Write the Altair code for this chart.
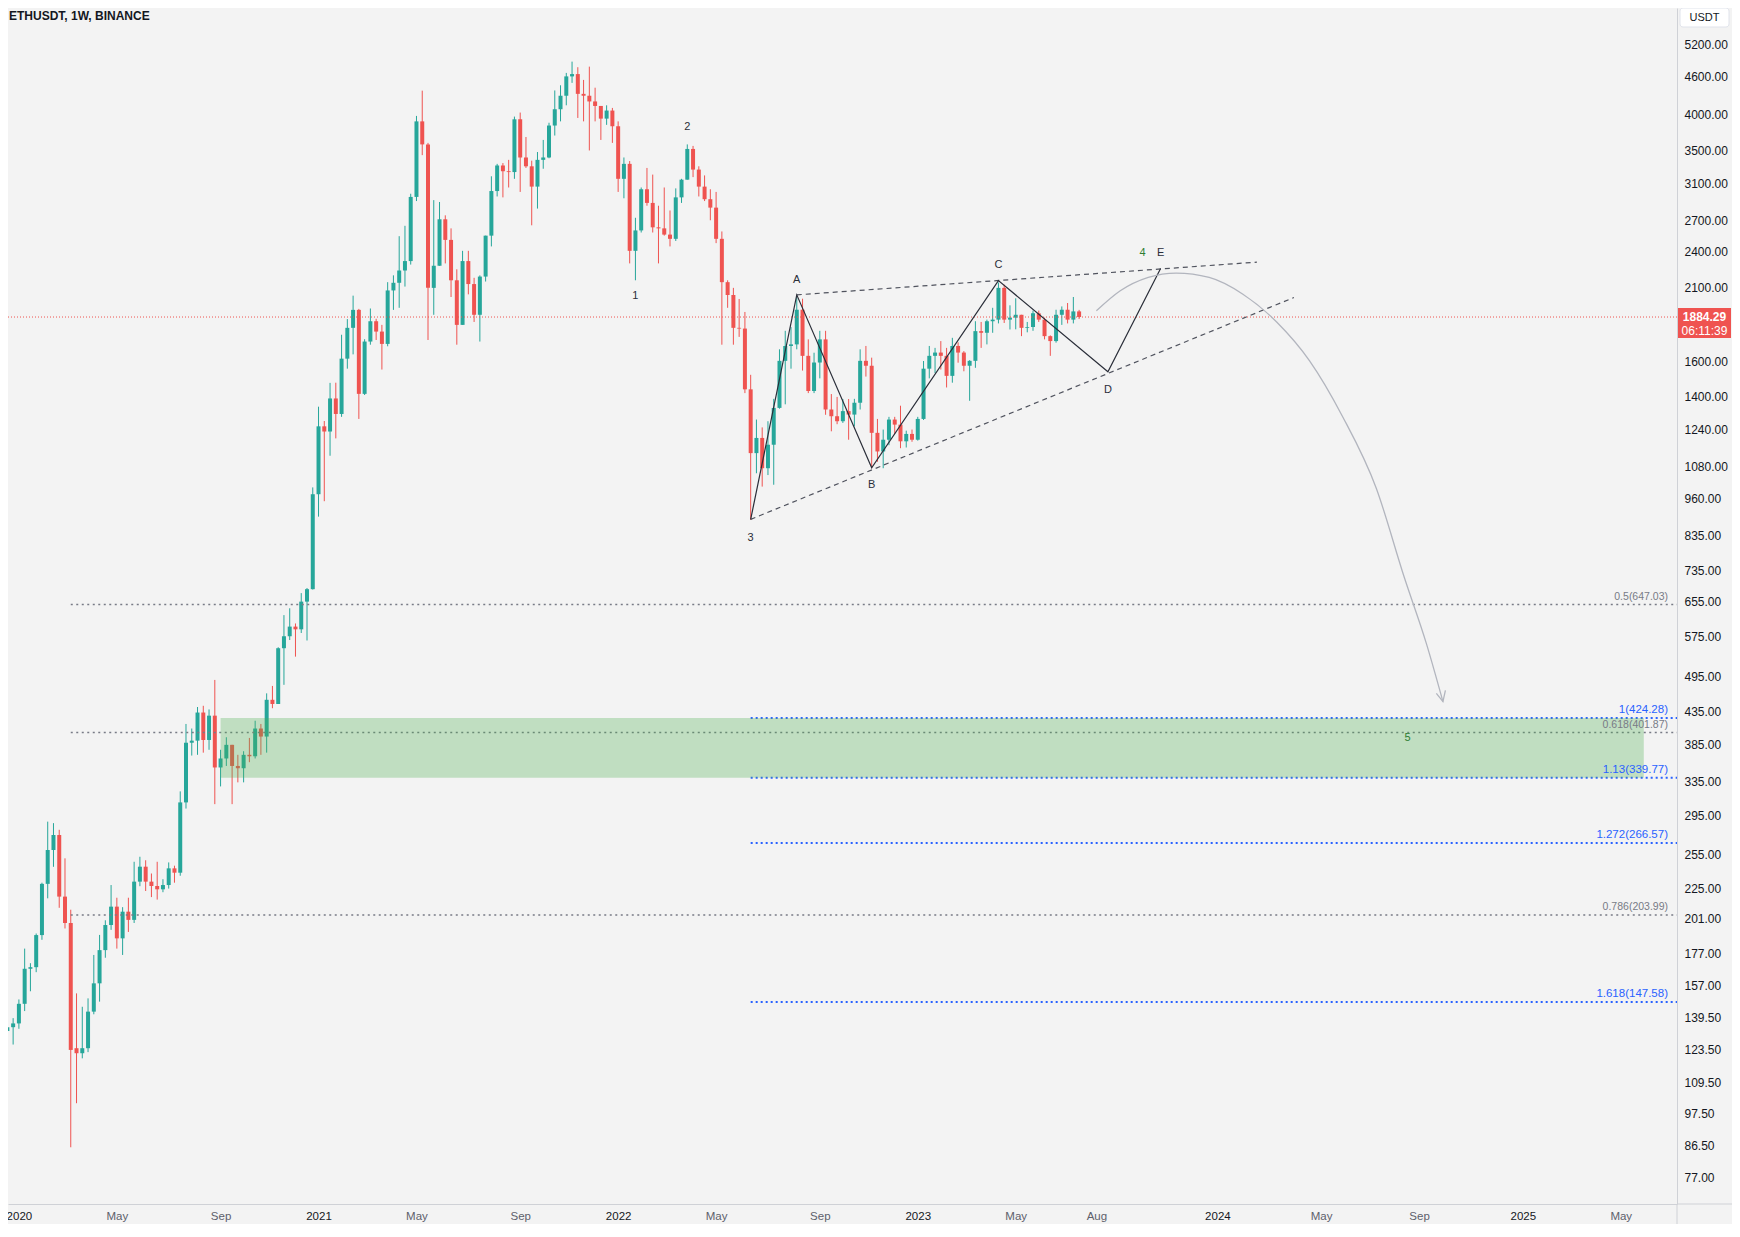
import math
import altair as alt
import pandas as pd

# ---------------- data ----------------
title_text = "ETHUSDT, 1W, BINANCE"
first_week = "2019-12-16"          # weekly candles, Monday starts

# (open, high, low, close)
ohlc_2019 = [(142.3, 145.5, 116.3, 132.5), (132.5, 138, 122, 134.4), (134.4, 139, 126, 136.3)]
ohlc_2020 = [
    (136.3, 149, 133.6, 146.6), (146.6, 180, 142.7, 167), (167, 170.5, 153.6, 168), (168, 190.4, 164.9, 189.3),
    (189.3, 230, 186, 229), (229, 288.6, 217, 259.7), (259.7, 287, 244, 274.6), (274.6, 280, 209.5, 218.4),
    (218.4, 251.8, 194, 198), (198, 208, 86, 123.5), (124.3, 152.4, 101.3, 122), (122, 145, 119.7, 124.3),
    (124.3, 149.6, 122.5, 142.4), (142.4, 175.8, 141, 158.2), (158.2, 189.4, 147.8, 179), (179, 200, 174, 196.5),
    (196.5, 228, 193, 210.4), (210.4, 217.5, 180, 187), (187, 210, 175.8, 206.5), (206.5, 217.5, 191.5, 200.3),
    (200.3, 248.6, 198, 230.9), (230.9, 253.3, 227, 244.1), (244.1, 250, 223, 230.9), (230.9, 238, 218, 227.2),
    (227.2, 248.6, 216, 224.4), (224.4, 233, 222, 228), (228, 248, 225, 242.6), (242.6, 245, 230, 238.7),
    (238.7, 323, 236, 310), (310, 415, 303, 387), (387, 408, 369, 390), (390, 442, 370, 433),
    (433, 444, 373, 391), (391, 438, 377, 428), (428, 488.8, 308, 353), (353, 377, 329, 365),
    (365, 395, 355, 384), (384, 384, 308, 355), (355, 370, 334, 352), (352, 375, 334, 370),
    (370, 394, 360, 368), (368, 420, 365, 408), (408, 415, 370, 396), (396, 465, 373, 454),
    (454, 478, 440, 447), (447, 552, 447, 550), (550, 622, 480, 575), (575, 638, 567, 596),
    (596, 603, 533, 590), (590, 675, 582, 654), (654, 688, 566, 685), (685, 1000, 684, 975),
]
ohlc_2021 = [
    (975, 1350, 897, 1255), (1255, 1280, 950, 1231), (1231, 1475, 1125, 1392), (1392, 1476, 1200, 1314),
    (1314, 1764, 1300, 1614), (1614, 1870, 1555, 1810), (1810, 2040, 1640, 1935), (1935, 1942, 1290, 1416),
    (1416, 1735, 1410, 1720), (1720, 1945, 1700, 1855), (1855, 1872, 1730, 1785), (1785, 1830, 1550, 1705),
    (1705, 2145, 1690, 2080), (2080, 2200, 1935, 2140), (2140, 2545, 1950, 2240), (2240, 2645, 2110, 2320),
    (2320, 2980, 2290, 2945), (2945, 3980, 2900, 3900), (3900, 4372, 3440, 3580), (3580, 3600, 1730, 2100),
    (2100, 2910, 1900, 2280), (2280, 2890, 2280, 2710), (2710, 2750, 2300, 2510), (2510, 2620, 2030, 2160),
    (2160, 2250, 1700, 1830), (1830, 2410, 1830, 2320), (2320, 2410, 2050, 2130), (2130, 2180, 1850, 1900),
    (1900, 2200, 1720, 2190), (2190, 2550, 2150, 2550), (2550, 3180, 2450, 3010), (3010, 3330, 2950, 3310),
    (3310, 3340, 2940, 3240), (3240, 3380, 3050, 3230), (3230, 3970, 3150, 3930), (3930, 4030, 3000, 3410),
    (3410, 3680, 3280, 3300), (3300, 3370, 2650, 3060), (3060, 3480, 2820, 3380), (3380, 3640, 3270, 3410),
    (3410, 3880, 3400, 3840), (3840, 4375, 3700, 4080), (4080, 4460, 3900, 4290), (4290, 4670, 4140, 4610),
    (4610, 4870, 4500, 4650), (4650, 4770, 3950, 4320), (4320, 4550, 3900, 4290), (4290, 4780, 3500, 4200),
    (4200, 4420, 3900, 4130), (4130, 4130, 3640, 3940), (3940, 4140, 3850, 4060), (4060, 4100, 3600, 3830),
]
ohlc_2022 = [
    (3830, 3900, 3000, 3150), (3150, 3410, 2930, 3330), (3330, 3365, 2300, 2410), (2410, 2725, 2160, 2600),
    (2600, 3050, 2580, 3030), (3030, 3280, 2850, 2880), (2880, 3200, 2580, 2630), (2630, 2850, 2300, 2620),
    (2620, 3050, 2550, 2560), (2560, 2800, 2450, 2520), (2520, 3040, 2500, 2940), (2940, 3150, 2880, 3140),
    (3140, 3580, 3140, 3520), (3520, 3560, 3170, 3260), (3260, 3300, 2950, 3060), (3060, 3190, 2900, 2920),
    (2920, 3030, 2700, 2830), (2830, 3000, 2480, 2520), (2520, 2590, 1700, 2145), (2145, 2160, 1950, 2045),
    (2045, 2100, 1700, 1810), (1810, 2015, 1750, 1805), (1805, 1920, 1420, 1440), (1440, 1520, 886, 1136),
    (1136, 1287, 1054, 1202), (1202, 1250, 1003, 1074), (1074, 1279, 1047, 1172), (1172, 1390, 1010, 1344),
    (1344, 1671, 1340, 1601), (1601, 1790, 1362, 1692), (1692, 1815, 1555, 1702), (1702, 2030, 1671, 1936),
    (1936, 2017, 1544, 1631), (1631, 1734, 1420, 1431), (1431, 1650, 1420, 1591), (1591, 1790, 1500, 1734),
    (1734, 1790, 1310, 1336), (1336, 1415, 1232, 1303), (1303, 1400, 1265, 1279), (1279, 1389, 1271, 1328),
    (1328, 1389, 1194, 1311), (1311, 1390, 1255, 1370), (1370, 1671, 1336, 1601), (1601, 1692, 1510, 1572),
    (1572, 1620, 1074, 1225), (1225, 1290, 1100, 1143), (1143, 1240, 1074, 1194), (1194, 1300, 1170, 1287),
    (1287, 1300, 1220, 1263), (1263, 1355, 1157, 1187), (1187, 1235, 1160, 1220), (1220, 1240, 1185, 1194),
]
ohlc_2023 = [
    (1194, 1300, 1190, 1290), (1290, 1600, 1285, 1555), (1555, 1692, 1500, 1631), (1631, 1680, 1530, 1651),
    (1651, 1723, 1550, 1631), (1631, 1680, 1450, 1514), (1514, 1744, 1476, 1692), (1692, 1715, 1590, 1651),
    (1651, 1660, 1540, 1572), (1572, 1605, 1380, 1601), (1601, 1855, 1560, 1788), (1788, 1850, 1680, 1777),
    (1777, 1866, 1702, 1855), (1855, 1950, 1777, 1866), (1866, 2142, 1840, 2100), (2100, 2125, 1843, 1866),
    (1866, 1968, 1799, 1880), (1880, 2020, 1800, 1900), (1900, 1900, 1755, 1810), (1810, 1850, 1780, 1815),
    (1815, 1930, 1790, 1910), (1910, 1930, 1850, 1866), (1866, 1880, 1734, 1755), (1755, 1760, 1631, 1723),
    (1723, 1936, 1713, 1900), (1900, 1960, 1830, 1936), (1936, 1985, 1840, 1866), (1866, 2030, 1840, 1924),
    (1924, 1935, 1870, 1884.29),
]
current_price = 1884.29
countdown = "06:11:39"
currency = "USDT"

price_ticks = [5200, 4600, 4000, 3500, 3100, 2700, 2400, 2100, 1600, 1400, 1240, 1080, 960, 835, 735,
               655, 575, 495, 435, 385, 335, 295, 255, 225, 201, 177, 157, 139.5, 123.5, 109.5, 97.5, 86.5, 77]
time_ticks = ["2020-01-06", "2020-05-04", "2020-09-07", "2021-01-04", "2021-05-03", "2021-09-06",
              "2022-01-03", "2022-05-02", "2022-09-05", "2023-01-02", "2023-05-01", "2023-08-07",
              "2024-01-01", "2024-05-06", "2024-09-02", "2025-01-06", "2025-05-05"]

retr_levels = ["0.5", "0.618", "0.786"]
retr_prices = [647.03, 401.87, 203.99]
retr_start = "2020-03-09"
ext_levels = ["1", "1.13", "1.272", "1.618"]
ext_prices = [424.28, 339.77, 266.57, 147.58]
ext_start = "2022-06-13"
lines_end = "2025-08-01"

zone_start, zone_end = "2020-09-07", "2025-06-02"
zone_low, zone_high = 339.77, 424.28

pattern_dates = ["2022-06-13", "2022-08-08", "2022-11-07", "2023-04-10", "2023-08-21", "2023-10-24"]
pattern_prices = [888, 2046, 1076, 2158, 1537, 2256]
upper_dates, upper_prices = ["2022-08-08", "2024-02-18"], [2046, 2311]
lower_dates, lower_prices = ["2022-06-13", "2024-04-03"], [888, 2026]
arc_dates = ["2023-08-07", "2023-09-05", "2023-10-09", "2023-11-12", "2023-12-22", "2024-02-01",
             "2024-03-13", "2024-04-22", "2024-06-01", "2024-07-12", "2024-08-15", "2024-09-11", "2024-10-01"]
arc_prices = [1928, 2077, 2183, 2219, 2183, 2051, 1850, 1601, 1302, 997, 716, 559, 451]
arrow_dates = ["2024-09-23", "2024-10-01", "2024-10-04"]
arrow_prices = [465, 451, 470]

wave_labels = ["1", "2", "3", "A", "B", "C", "D", "E"]
wave_dates = ["2022-01-24", "2022-03-28", "2022-06-13", "2022-08-08", "2022-11-07", "2023-04-10",
              "2023-08-21", "2023-10-24"]
wave_prices = [2035, 3826, 828, 2165, 1009, 2284, 1439, 2391]
count_labels = ["4", "5"]
count_dates = ["2023-10-02", "2024-08-19"]
count_prices = [2391, 394]

# ---------------- layout / style ----------------
FONT = "Liberation Sans"
BG = "#f3f3f3"
UP, DOWN = "#26a69a", "#ef5350"
AXIS_LINE = "#cfd1d6"
PLOT_W, PLOT_H = 1669, 1196
PAD_R, PAD_B = 55, 20

# price scale calibrated on the reference ticks (5200 at y=44, 77 at y=1177, plot top at y=8)
k = (math.log(5200) - math.log(77)) / (1177 - 44)
y_top = math.exp(math.log(5200) + (44 - 8) * k)
y_bot = math.exp(math.log(y_top) - PLOT_H * k)

# time scale: 5.762 px per week, week of 2020-01-06 at x=10.9 in plot
px_per_day = 5.762 / 7
x0 = pd.Timestamp("2020-01-06") - pd.Timedelta(days=10.9 / px_per_day)
x1 = x0 + pd.Timedelta(days=PLOT_W / px_per_day)
to_ms = lambda t: int(pd.Timestamp(t).value // 10**6)

xscale = alt.Scale(type="utc", domain=[to_ms(x0), to_ms(x1)], nice=False, padding=0)
yscale = alt.Scale(type="log", domain=[y_bot, y_top], nice=False, padding=0)

# ---------------- frames ----------------
rows = ohlc_2019 + ohlc_2020 + ohlc_2021 + ohlc_2022 + ohlc_2023
dates = pd.date_range(first_week, periods=len(rows), freq="7D").strftime("%Y-%m-%d")
candles = pd.DataFrame(rows, columns=["open", "high", "low", "close"])
candles["date"] = dates
candles["color"] = [UP if c >= o else DOWN for o, c in zip(candles["open"], candles["close"])]

retr = pd.DataFrame({"level": retr_levels, "price": retr_prices, "start": retr_start, "end": lines_end})
retr["label"] = [f"{l}({p:.2f})" for l, p in zip(retr_levels, retr_prices)]
ext = pd.DataFrame({"level": ext_levels, "price": ext_prices, "start": ext_start, "end": lines_end})
ext["label"] = [f"{l}({p:.2f})" for l, p in zip(ext_levels, ext_prices)]
zone = pd.DataFrame({"start": [zone_start], "end": [zone_end], "low": [zone_low], "high": [zone_high]})
pattern = pd.DataFrame({"date": pattern_dates, "price": pattern_prices})
trends = pd.DataFrame({"date": upper_dates + lower_dates, "price": upper_prices + lower_prices,
                       "line": ["upper", "upper", "lower", "lower"]})
arc = pd.DataFrame({"date": arc_dates, "price": arc_prices})
arrow = pd.DataFrame({"date": arrow_dates, "price": arrow_prices})
waves = pd.DataFrame({"date": wave_dates, "price": wave_prices, "label": wave_labels})
counts = pd.DataFrame({"date": count_dates, "price": count_prices, "label": count_labels})
cur = pd.DataFrame({"price": [current_price], "label": [f"{current_price:.2f}"], "timer": [countdown]})
one = pd.DataFrame({"t": [title_text], "cur": [currency]})

xaxis = alt.Axis(values=[to_ms(t) for t in time_ticks],
                 labelExpr="utcmonth(datum.value) == 0 ? utcFormat(datum.value, '%Y') : utcFormat(datum.value, '%b')",
                 title=None, grid=False, ticks=False, tickSize=0, labelPadding=6, labelFont=FONT,
                 labelFontSize=11.5, labelOverlap=False, labelFlush=False,
                 labelColor={"condition": {"test": "utcmonth(datum.value) == 0", "value": "#131722"},
                             "value": "#5d606b"},
                 domainColor=AXIS_LINE)
yaxis = alt.Axis(orient="right", values=price_ticks, format=".2f", title=None, grid=False, ticks=False,
                 tickSize=0, labelPadding=7, labelFont=FONT, labelFontSize=12, labelColor="#131722",
                 labelOverlap=False, labelFlush=False, domainColor=AXIS_LINE)


def X(field):
    return alt.X(field, type="temporal", scale=xscale, axis=xaxis, title=None)


def Y(field):
    return alt.Y(field, type="quantitative", scale=yscale, axis=yaxis, title=None)


retr_rules = alt.Chart(retr).mark_rule(color="#787b86", strokeDash=[2, 3.5], strokeWidth=1.5, clip=True).encode(
    x=X("start"), x2="end:T", y=Y("price"))
ext_rules = alt.Chart(ext).mark_rule(color="#2962ff", strokeDash=[2, 3], strokeWidth=2, clip=True).encode(
    x=X("start"), x2="end:T", y=Y("price"))
cur_rule = alt.Chart(cur).mark_rule(color=DOWN, strokeDash=[1, 2], strokeWidth=1).encode(y=Y("price"))

wicks = alt.Chart(candles).mark_rule(strokeWidth=1, clip=True).encode(
    x=X("date"), y=Y("low"), y2="high:Q", color=alt.Color("color:N", scale=None))
bodies = alt.Chart(candles).mark_bar(size=4, clip=True).encode(
    x=X("date"), y=Y("open"), y2="close:Q", color=alt.Color("color:N", scale=None))

zone_rect = alt.Chart(zone).mark_rect(color="#4caf50", opacity=0.3, clip=True).encode(
    x=X("start"), x2="end:T", y=Y("low"), y2="high:Q")

trend_lines = alt.Chart(trends).mark_line(color="#50535e", strokeDash=[5, 4], strokeWidth=1.2, clip=True).encode(
    x=X("date"), y=Y("price"), detail="line:N")
pattern_line = alt.Chart(pattern).mark_line(color="#2a2e39", strokeWidth=1.2, clip=True).encode(
    x=X("date"), y=Y("price"))
arc_line = alt.Chart(arc).mark_line(color="#b2b5be", strokeWidth=1.3, interpolate="monotone", clip=True).encode(
    x=X("date"), y=Y("price"))
arrow_line = alt.Chart(arrow).mark_line(color="#b2b5be", strokeWidth=1.3, clip=True).encode(
    x=X("date"), y=Y("price"))

wave_text = alt.Chart(waves).mark_text(font=FONT, fontSize=11, color="#2a2e39", baseline="middle").encode(
    x=X("date"), y=Y("price"), text="label:N")
count_text = alt.Chart(counts).mark_text(font=FONT, fontSize=11, color="#2e7d32", baseline="middle").encode(
    x=X("date"), y=Y("price"), text="label:N")

retr_text = alt.Chart(retr).mark_text(font=FONT, fontSize=10.5, color="#787b86", align="right",
                                      baseline="bottom", dy=-3).encode(
    x=alt.value(PLOT_W - 9), y=Y("price"), text="label:N")
ext_text = alt.Chart(ext).mark_text(font=FONT, fontSize=11.5, color="#2962ff", align="right",
                                    baseline="bottom", dy=-3).encode(
    x=alt.value(PLOT_W - 9), y=Y("price"), text="label:N")

# panel furniture: axis lines running into the corner, as in the reference
corner_v = alt.Chart(one).mark_rule(color=AXIS_LINE, strokeWidth=1).encode(
    x=alt.value(PLOT_W), y=alt.value(PLOT_H), y2=alt.value(PLOT_H + PAD_B))
corner_h = alt.Chart(one).mark_rule(color=AXIS_LINE, strokeWidth=1).encode(
    x=alt.value(PLOT_W), x2=alt.value(PLOT_W + PAD_R), y=alt.value(PLOT_H))

title = alt.Chart(one).mark_text(font=FONT, fontSize=12, fontWeight="bold", color="#131722",
                                 align="left", baseline="middle").encode(
    x=alt.value(1), y=alt.value(8), text="t:N")
cur_box = alt.Chart(one).mark_rect(fill="white", stroke="#e0e3eb", cornerRadius=3).encode(
    x=alt.value(PLOT_W + 3), x2=alt.value(PLOT_W + 52), y=alt.value(0), y2=alt.value(19))
cur_text = alt.Chart(one).mark_text(font=FONT, fontSize=11, color="#131722", baseline="middle").encode(
    x=alt.value(PLOT_W + 27.5), y=alt.value(9.5), text="cur:N")

price_box = alt.Chart(cur).mark_point(shape="M-1,-0.34L1,-0.34L1,0.79L-1,0.79Z", size=53 * 53, filled=True,
                                      color=DOWN, opacity=1, strokeWidth=0).encode(
    x=alt.value(PLOT_W + 27.5), y=Y("price"))
price_text = alt.Chart(cur).mark_text(font=FONT, fontSize=12, fontWeight="bold", color="white",
                                      baseline="middle").encode(
    x=alt.value(PLOT_W + 27.5), y=Y("price"), text="label:N")
timer_text = alt.Chart(cur).mark_text(font=FONT, fontSize=12, color="white", baseline="middle", dy=14).encode(
    x=alt.value(PLOT_W + 27.5), y=Y("price"), text="timer:N")

chart = alt.layer(
    wicks, bodies, retr_rules, ext_rules, cur_rule, zone_rect, trend_lines, pattern_line, arc_line, arrow_line,
    wave_text, count_text, retr_text, ext_text, corner_v, corner_h, title, cur_box, cur_text,
    price_box, price_text, timer_text,
).properties(
    width=PLOT_W, height=PLOT_H, background=BG,
    autosize=alt.AutoSizeParams(type="none"),
    padding={"left": 0, "top": 0, "right": PAD_R, "bottom": PAD_B},
).configure_view(strokeWidth=0)

chart.save("out.html", embed_options={"renderer": "svg", "actions": False})
